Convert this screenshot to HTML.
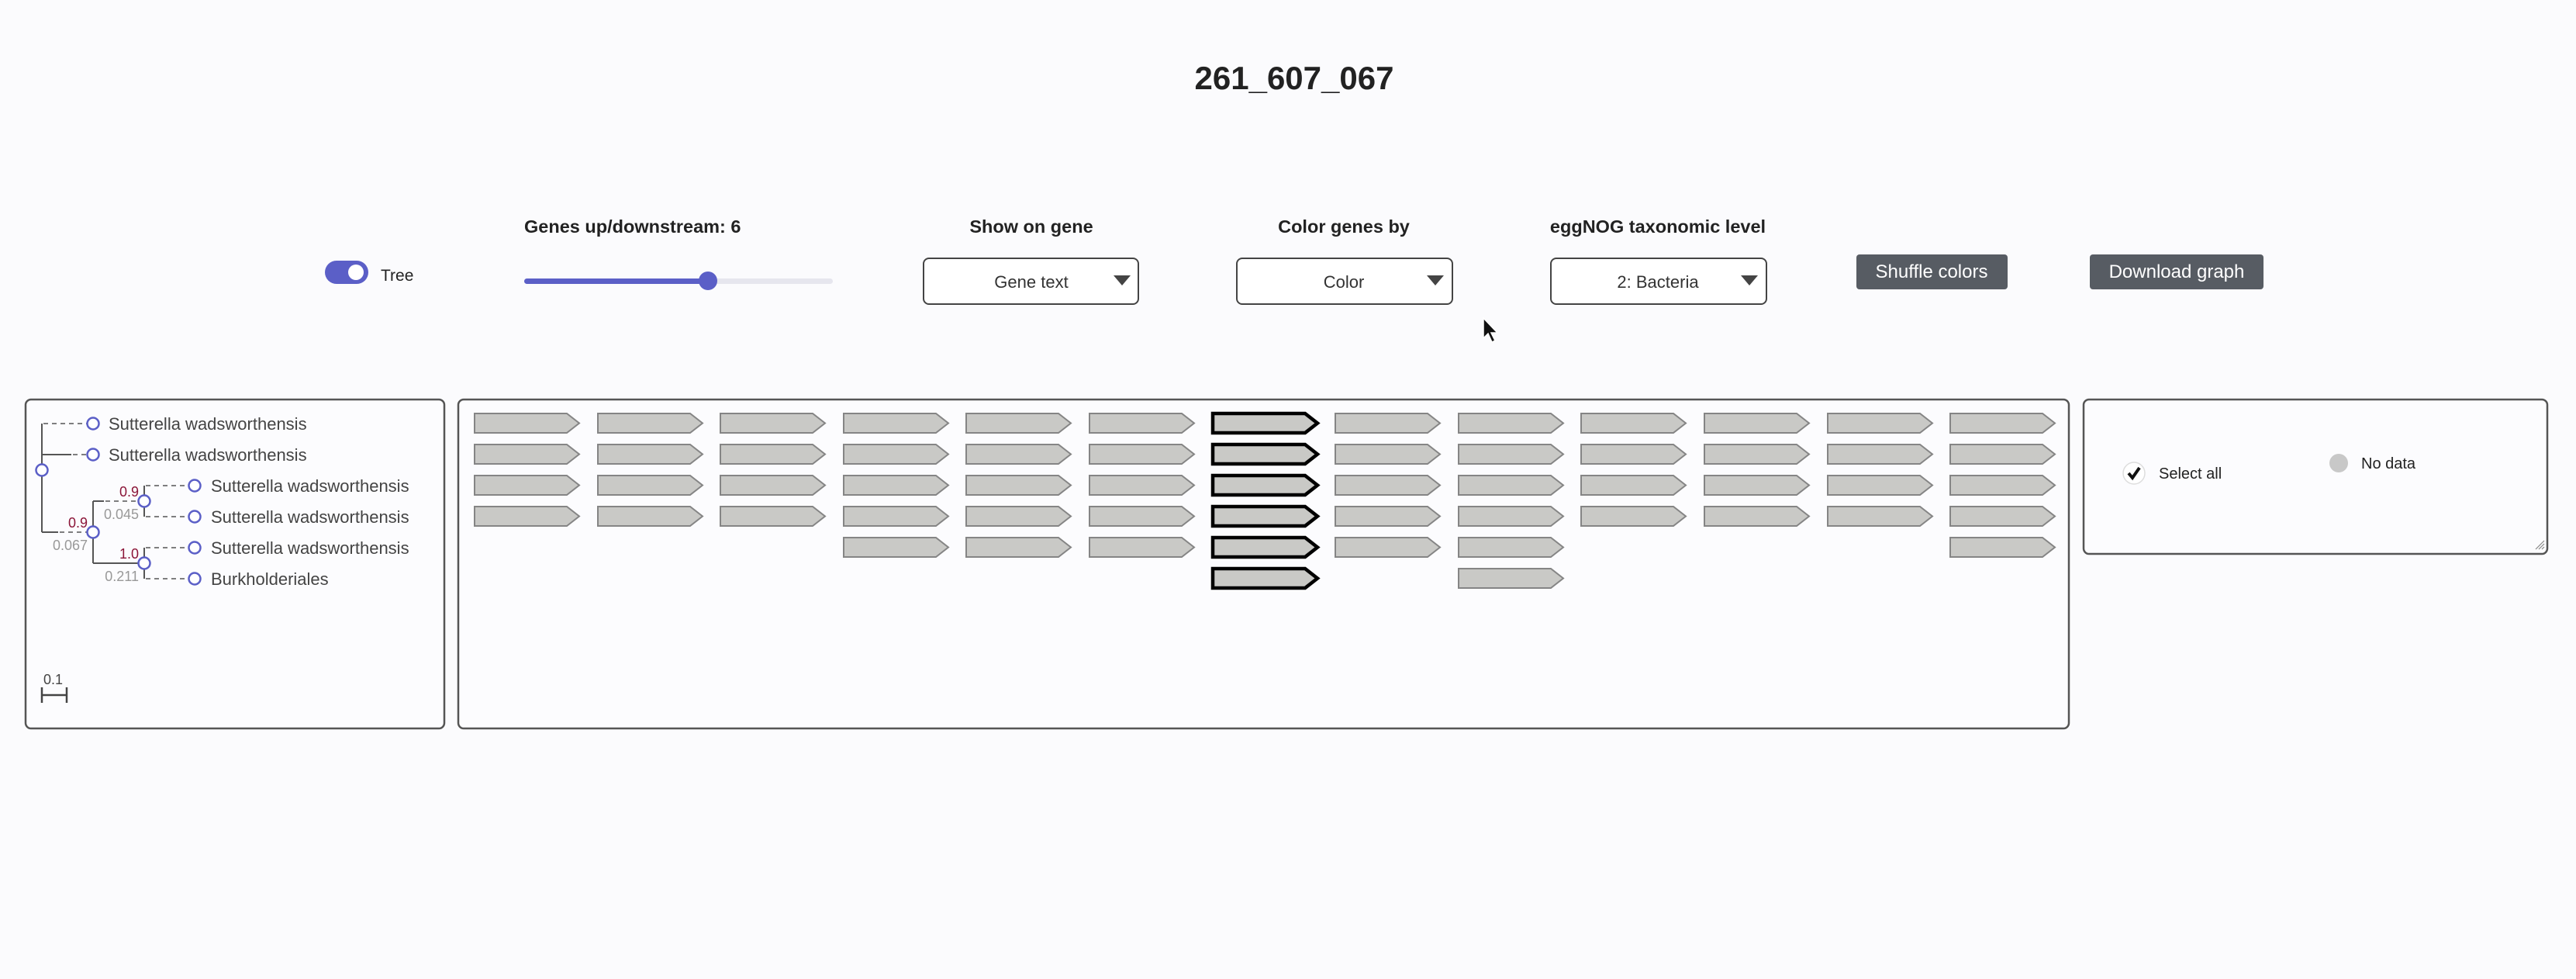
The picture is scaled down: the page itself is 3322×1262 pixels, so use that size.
<!DOCTYPE html>
<html><head><meta charset="utf-8"><style>
html,body{margin:0;padding:0;background:#fbfbfd;}
svg{display:block;font-family:"Liberation Sans",sans-serif;}
</style></head><body>
<svg width="3322" height="1262" viewBox="0 0 3322 1262" xmlns="http://www.w3.org/2000/svg">
<defs>
<polygon id="g" points="0,0 119,0 135,12.5 119,25 0,25" fill="#c9c9c6" stroke="#858585" stroke-width="2"/>
<polygon id="gb" points="0,0 119,0 135,12.5 119,25 0,25" fill="#c9c9c6" stroke="#000" stroke-width="4.5"/>
</defs>
<rect width="3322" height="1262" fill="#fbfbfd"/>
<text x="1669" y="115" font-size="42" font-weight="bold" text-anchor="middle" fill="#222">261_607_067</text>

<!-- toggle -->
<rect x="419" y="336" width="56" height="30" rx="15" fill="#5b5fc7"/>
<circle cx="459" cy="351" r="10" fill="#fff"/>
<text x="491" y="362" font-size="21" fill="#222">Tree</text>

<!-- slider -->
<text x="676" y="300" font-size="23.5" font-weight="bold" fill="#222">Genes up/downstream: 6</text>
<rect x="676" y="359" width="398" height="7" rx="3.5" fill="#e6e6ee"/>
<rect x="676" y="359" width="237" height="7" rx="3.5" fill="#5b5fc7"/>
<circle cx="913" cy="362" r="12" fill="#5b5fc7"/>

<!-- selects -->
<g font-size="23.5" fill="#222" text-anchor="middle">
<text x="1330" y="300" font-weight="bold">Show on gene</text>
<text x="1733" y="300" font-weight="bold">Color genes by</text>
<text x="2138" y="300" font-weight="bold">eggNOG taxonomic level</text>
</g>
<g fill="#fff" stroke="#444" stroke-width="2">
<rect x="1191" y="333" width="277" height="59" rx="7"/>
<rect x="1595" y="333" width="278" height="59" rx="7"/>
<rect x="2000" y="333" width="278" height="59" rx="7"/>
</g>
<g font-size="22" fill="#333" text-anchor="middle">
<text x="1330" y="371">Gene text</text>
<text x="1733" y="371">Color</text>
<text x="2138" y="371">2: Bacteria</text>
</g>
<g fill="#444">
<polygon points="1436,355 1458,355 1447,368"/>
<polygon points="1840,355 1862,355 1851,368"/>
<polygon points="2245,355 2267,355 2256,368"/>
</g>

<!-- buttons -->
<rect x="2394" y="328" width="195" height="45" rx="4" fill="#575c63"/>
<text x="2491" y="358" font-size="24" fill="#fff" text-anchor="middle">Shuffle colors</text>
<rect x="2695" y="328" width="224" height="45" rx="4" fill="#575c63"/>
<text x="2807" y="358" font-size="24" fill="#fff" text-anchor="middle">Download graph</text>

<!-- cursor -->
<polygon points="1913,410 1913,436 1919,430 1924,441 1928,439 1923,429 1931,429" fill="#111" stroke="#fff" stroke-width="1.5"/>

<!-- panels -->
<g fill="#fcfcfe" stroke="#555" stroke-width="2.5">
<rect x="33" y="515" width="540" height="424" rx="7"/>
<rect x="591" y="515" width="2077" height="424" rx="7"/>
<rect x="2687" y="515" width="598" height="199" rx="7"/>
</g>
<g stroke="#888" stroke-width="1.2"><line x1="3270" y1="708" x2="3281" y2="697"/><line x1="3274" y1="708" x2="3281" y2="701"/><line x1="3278" y1="708" x2="3281" y2="705"/></g>

<!-- tree -->
<g stroke="#555" stroke-width="2" fill="none">
<line x1="54" y1="546" x2="54" y2="686"/>
<line x1="54" y1="586" x2="92" y2="586"/>
<line x1="54" y1="686" x2="75" y2="686"/>
<line x1="120" y1="646" x2="120" y2="726"/>
<line x1="120" y1="646" x2="134" y2="646"/>
<line x1="120" y1="726" x2="178" y2="726"/>
<line x1="186" y1="626" x2="186" y2="666"/>
<line x1="186" y1="706" x2="186" y2="746"/>
</g>
<g stroke="#555" stroke-width="1.6" stroke-dasharray="6,5" fill="none">
<line x1="56" y1="546" x2="112" y2="546"/>
<line x1="94" y1="586" x2="112" y2="586"/>
<line x1="77" y1="686" x2="112" y2="686"/>
<line x1="136" y1="646" x2="178" y2="646"/>
<line x1="188" y1="626" x2="243" y2="626"/>
<line x1="188" y1="666" x2="243" y2="666"/>
<line x1="188" y1="706" x2="243" y2="706"/>
<line x1="188" y1="746" x2="243" y2="746"/>
</g>
<g fill="#fff" stroke="#5b5fc7" stroke-width="2.5">
<circle cx="54" cy="606" r="7.5"/>
<circle cx="120" cy="686" r="7.5"/>
<circle cx="186" cy="646" r="7.5"/>
<circle cx="186" cy="726" r="7.5"/>
<circle cx="120" cy="546" r="7.5"/>
<circle cx="120" cy="586" r="7.5"/>
<circle cx="251" cy="626" r="7.5"/>
<circle cx="251" cy="666" r="7.5"/>
<circle cx="251" cy="706" r="7.5"/>
<circle cx="251" cy="746" r="7.5"/>
</g>
<g font-size="22" fill="#444">
<text x="140" y="554">Sutterella wadsworthensis</text>
<text x="140" y="594">Sutterella wadsworthensis</text>
<text x="272" y="634">Sutterella wadsworthensis</text>
<text x="272" y="674">Sutterella wadsworthensis</text>
<text x="272" y="714">Sutterella wadsworthensis</text>
<text x="272" y="754">Burkholderiales</text>
</g>
<g font-size="18" text-anchor="end">
<text x="113" y="680" fill="#8b1538">0.9</text>
<text x="113" y="709" fill="#999">0.067</text>
<text x="179" y="640" fill="#8b1538">0.9</text>
<text x="179" y="669" fill="#999">0.045</text>
<text x="179" y="720" fill="#8b1538">1.0</text>
<text x="179" y="749" fill="#999">0.211</text>
</g>
<text x="56" y="882" font-size="18" fill="#444">0.1</text>
<g stroke="#444" stroke-width="2.5"><line x1="54" y1="896" x2="86" y2="896"/><line x1="54" y1="886" x2="54" y2="906"/><line x1="86" y1="886" x2="86" y2="906"/></g>

<!-- genes -->
<g>
<use href="#g" x="612" y="533"/><use href="#g" x="612" y="573"/><use href="#g" x="612" y="613"/><use href="#g" x="612" y="653"/>
<use href="#g" x="771" y="533"/><use href="#g" x="771" y="573"/><use href="#g" x="771" y="613"/><use href="#g" x="771" y="653"/>
<use href="#g" x="929" y="533"/><use href="#g" x="929" y="573"/><use href="#g" x="929" y="613"/><use href="#g" x="929" y="653"/>
<use href="#g" x="1088" y="533"/><use href="#g" x="1088" y="573"/><use href="#g" x="1088" y="613"/><use href="#g" x="1088" y="653"/><use href="#g" x="1088" y="693"/>
<use href="#g" x="1246" y="533"/><use href="#g" x="1246" y="573"/><use href="#g" x="1246" y="613"/><use href="#g" x="1246" y="653"/><use href="#g" x="1246" y="693"/>
<use href="#g" x="1405" y="533"/><use href="#g" x="1405" y="573"/><use href="#g" x="1405" y="613"/><use href="#g" x="1405" y="653"/><use href="#g" x="1405" y="693"/>
<use href="#gb" x="1564" y="533"/><use href="#gb" x="1564" y="573"/><use href="#gb" x="1564" y="613"/><use href="#gb" x="1564" y="653"/><use href="#gb" x="1564" y="693"/><use href="#gb" x="1564" y="733"/>
<use href="#g" x="1722" y="533"/><use href="#g" x="1722" y="573"/><use href="#g" x="1722" y="613"/><use href="#g" x="1722" y="653"/><use href="#g" x="1722" y="693"/>
<use href="#g" x="1881" y="533"/><use href="#g" x="1881" y="573"/><use href="#g" x="1881" y="613"/><use href="#g" x="1881" y="653"/><use href="#g" x="1881" y="693"/><use href="#g" x="1881" y="733"/>
<use href="#g" x="2039" y="533"/><use href="#g" x="2039" y="573"/><use href="#g" x="2039" y="613"/><use href="#g" x="2039" y="653"/>
<use href="#g" x="2198" y="533"/><use href="#g" x="2198" y="573"/><use href="#g" x="2198" y="613"/><use href="#g" x="2198" y="653"/>
<use href="#g" x="2357" y="533"/><use href="#g" x="2357" y="573"/><use href="#g" x="2357" y="613"/><use href="#g" x="2357" y="653"/>
<use href="#g" x="2515" y="533"/><use href="#g" x="2515" y="573"/><use href="#g" x="2515" y="613"/><use href="#g" x="2515" y="653"/><use href="#g" x="2515" y="693"/>
</g>

<!-- legend -->
<circle cx="2752" cy="610" r="14" fill="#fff" stroke="#ddd" stroke-width="1.5"/>
<polyline points="2745,610 2750,616 2759,603" fill="none" stroke="#111" stroke-width="4"/>
<text x="2784" y="617" font-size="20" fill="#222">Select all</text>
<ellipse cx="3016" cy="597" rx="12" ry="12" fill="#c8c8c8"/>
<text x="3045" y="604" font-size="20" fill="#222">No data</text>
</svg>
</body></html>
